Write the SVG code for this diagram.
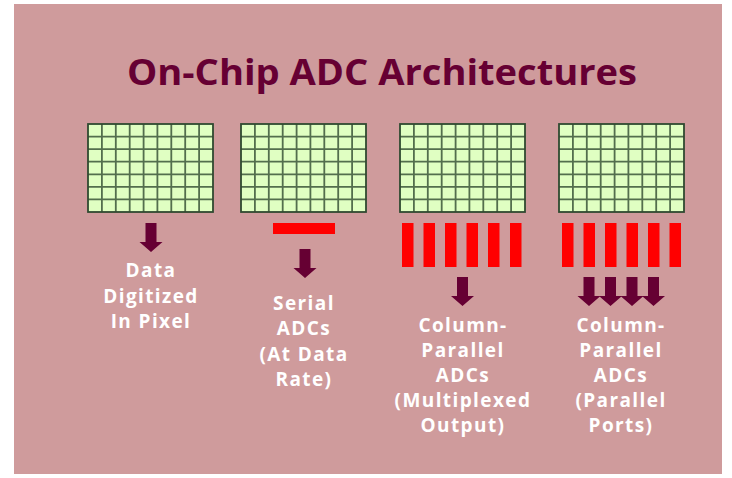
<svg xmlns="http://www.w3.org/2000/svg" width="732" height="478" viewBox="0 0 732 478">
  <style>
    .title { font-family: "Open Sans", "Liberation Sans", sans-serif; font-weight: 700; font-size: 35px; fill: #660033; }
    .lbl { font-family: "Open Sans", "Liberation Sans", sans-serif; font-weight: 700; font-size: 19px; fill: #ffffff; text-anchor: middle; letter-spacing: 1.4px; }
    .cell { fill: #e0ffc2; stroke: #2f4a30; stroke-width: 1.8; }
    .gl { stroke: #2f4a30; stroke-width: 1.8; stroke-opacity: 0.8; fill: none; }
    .adc { fill: #ff0000; }
    .arr { fill: #660033; }
  </style>
  <defs>
    <!-- 9 x 7 pixel array -->
    <g id="pixel-array">
      <rect class="cell" x="0" y="0" width="125" height="88"/>
      <path class="gl" d="M13.9,0V88M27.8,0V88M41.7,0V88M55.6,0V88M69.4,0V88M83.3,0V88M97.2,0V88M111.1,0V88
                          M0,12.6H125M0,25.1H125M0,37.7H125M0,50.3H125M0,62.9H125M0,75.4H125"/>
    </g>
    <!-- downward block arrow, tip at (0,29) -->
    <path id="down" d="M-5.5,0H5.5V19H11.5L0,29L-11.5,19H-5.5Z"/>
  </defs>

  <rect x="14" y="4" width="708" height="470" fill="#cf9b9c"/>

  <text class="title" x="382" y="85" text-anchor="middle" textLength="510" lengthAdjust="spacingAndGlyphs">On-Chip ADC Architectures</text>

  <g id="in-pixel">
    <use href="#pixel-array" x="88" y="124"/>
    <text class="lbl" x="151" y="277">Data</text>
    <text class="lbl" x="151" y="303">Digitized</text>
    <text class="lbl" x="151" y="328">In Pixel</text>
  </g>

  <g id="serial">
    <use href="#pixel-array" x="241" y="124"/>
    <rect class="adc" x="273" y="223" width="62" height="11"/>
    <text class="lbl" x="304" y="310">Serial</text>
    <text class="lbl" x="304" y="335">ADCs</text>
    <text class="lbl" x="304" y="361">(At Data</text>
    <text class="lbl" x="304" y="386">Rate)</text>
  </g>

  <g id="column-multiplexed">
    <use href="#pixel-array" x="400" y="124"/>
    <rect class="adc" x="402" y="223" width="11.5" height="44"/>
    <rect class="adc" x="423.5" y="223" width="11.5" height="44"/>
    <rect class="adc" x="445" y="223" width="11.5" height="44"/>
    <rect class="adc" x="466.5" y="223" width="11.5" height="44"/>
    <rect class="adc" x="488" y="223" width="11.5" height="44"/>
    <rect class="adc" x="510" y="223" width="11.5" height="44"/>
    <text class="lbl" x="463" y="332">Column-</text>
    <text class="lbl" x="463" y="357">Parallel</text>
    <text class="lbl" x="463" y="382">ADCs</text>
    <text class="lbl" x="463" y="407">(Multiplexed</text>
    <text class="lbl" x="463" y="432">Output)</text>
  </g>

  <g id="column-parallel">
    <use href="#pixel-array" x="559" y="124"/>
    <rect class="adc" x="562" y="223" width="11.5" height="44"/>
    <rect class="adc" x="583.5" y="223" width="11.5" height="44"/>
    <rect class="adc" x="605" y="223" width="11.5" height="44"/>
    <rect class="adc" x="626.5" y="223" width="11.5" height="44"/>
    <rect class="adc" x="648" y="223" width="11.5" height="44"/>
    <rect class="adc" x="669.5" y="223" width="11.5" height="44"/>
    <text class="lbl" x="621" y="332">Column-</text>
    <text class="lbl" x="621" y="357">Parallel</text>
    <text class="lbl" x="621" y="382">ADCs</text>
    <text class="lbl" x="621" y="407">(Parallel</text>
    <text class="lbl" x="621" y="432">Ports)</text>
  </g>

  <g id="connectors" class="arr">
    <use href="#down" x="151" y="223"/>
    <use href="#down" x="305" y="249"/>
    <use href="#down" x="462.5" y="277"/>
    <use href="#down" x="589" y="277"/>
    <use href="#down" x="610.5" y="277"/>
    <use href="#down" x="632" y="277"/>
    <use href="#down" x="653.5" y="277"/>
  </g>
</svg>
